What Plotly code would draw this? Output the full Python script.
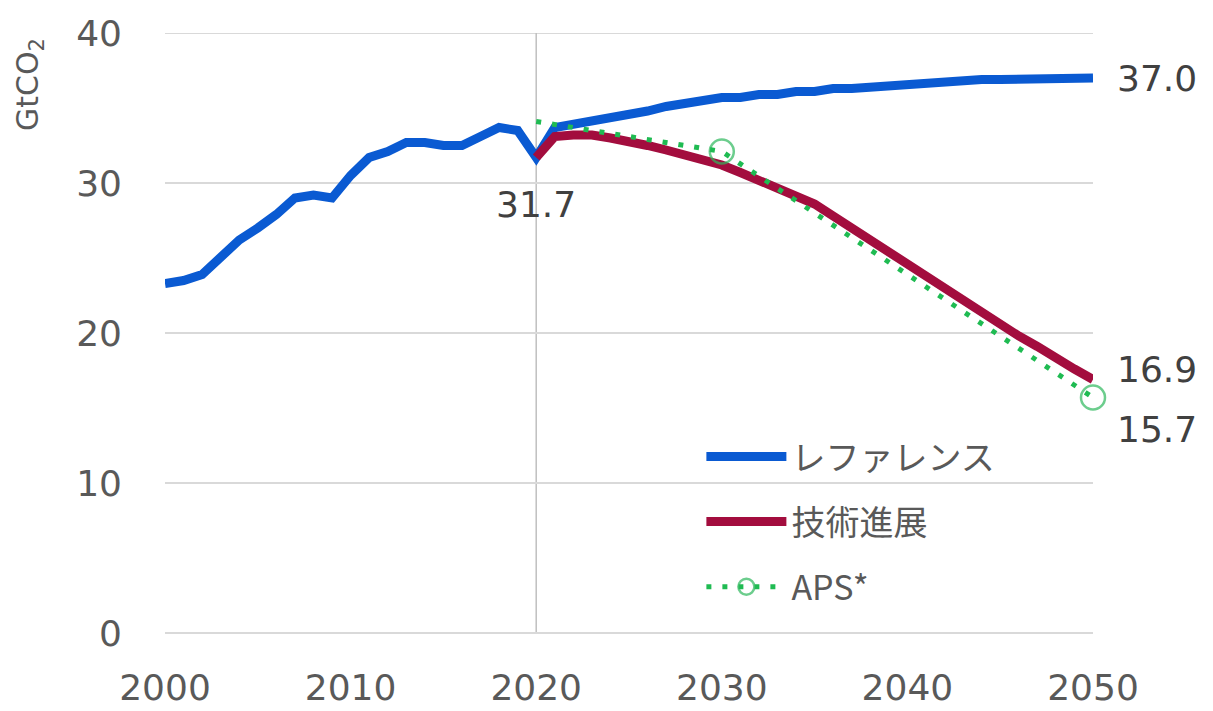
import plotly.graph_objects as go

# ---- data ----
years_hist = list(range(2000, 2021))
hist_vals = [23.3, 23.5, 23.9, 25.1, 26.2, 27.0, 27.9, 29.0, 29.2, 29.0,
             30.5, 31.7, 32.1, 32.7, 32.7, 32.5, 32.5, 33.1, 33.7, 33.5, 31.7]

years_proj = list(range(2021, 2051))
ref_vals = [33.7, 33.9, 34.2, 34.4, 34.6, 34.8, 35.1, 35.3, 35.5, 35.7,
            35.7, 35.9, 35.9, 36.1, 36.1, 36.3, 36.3, 36.4, 36.5, 36.6,
            36.7, 36.7, 36.8, 36.9, 36.9, 36.9, 36.9, 37.0, 37.0, 37.0]

years_tech = list(range(2020, 2051))
tech_vals = [31.7, 33.1, 33.2, 33.2, 33.0, 32.8, 32.5, 32.2, 31.9, 31.6,
             31.2, 30.7, 30.2, 29.7, 29.2, 28.6, 27.8, 27.0, 26.2, 25.3,
             24.5, 23.7, 22.9, 22.1, 21.3, 20.5, 19.8, 19.1, 18.3, 17.6, 16.9]

years_aps = [2020, 2030, 2050]
aps_vals = [34.1, 32.1, 15.7]
aps_marker_sizes = [0, 24, 24]

series_names = ["レファレンス", "技術進展", "APS*"]
x_ticks = [2000, 2010, 2020, 2030, 2040, 2050]
y_ticks = [0, 10, 20, 30, 40]

BLUE = "#0A5AD2"
RED = "#A30D3E"
GREEN = "#1FBB52"
TXT = "#595959"
GRID = "#D9D9D9"
FONT = "DejaVu Sans, Verdana, sans-serif"
JP = "Noto Sans CJK JP, DejaVu Sans, sans-serif"

fig = go.Figure()

fig.add_trace(go.Scatter(
    x=years_hist + years_proj, y=hist_vals + ref_vals, mode="lines",
    name=series_names[0], legendgroup="a",
    line=dict(color=BLUE, width=9), cliponaxis=False))

fig.add_trace(go.Scatter(
    x=years_tech, y=tech_vals, mode="lines",
    name=series_names[1], legendgroup="b",
    line=dict(color=RED, width=9), cliponaxis=False))

fig.add_trace(go.Scatter(
    x=years_aps, y=aps_vals, mode="lines+markers",
    name=series_names[2], legendgroup="c",
    line=dict(color=GREEN, width=5, dash="5px,11px"),
    marker=dict(symbol="circle-open", size=aps_marker_sizes, color="#2DB85C",
                line=dict(width=2.5, color="#2DB85C")),
    cliponaxis=False))

# vertical line at 2020
fig.add_shape(type="line", xref="x", yref="y", x0=2020, x1=2020, y0=0, y1=40,
              line=dict(color="#BFBFBF", width=1.5), layer="below")
# top gridline at 40 (plotly omits the grid line lying on the range edge)
fig.add_shape(type="line", xref="paper", yref="y", x0=0, x1=1, y0=y_ticks[-1], y1=y_ticks[-1],
              line=dict(color=GRID, width=2), layer="below")

ann_font = dict(family=FONT, size=36, color="#404040")
fig.add_annotation(x=2020, y=hist_vals[-1], text="31.7", showarrow=False,
                   xanchor="center", yanchor="middle", yshift=-47, font=ann_font)
fig.add_annotation(x=2050, y=ref_vals[-1], text="37.0", showarrow=False,
                   xanchor="left", yanchor="middle", xshift=22, font=ann_font)
fig.add_annotation(x=2050, y=tech_vals[-1], text="16.9", showarrow=False,
                   xanchor="left", yanchor="middle", xshift=22, yshift=10, font=ann_font)
fig.add_annotation(x=2050, y=aps_vals[-1], text="15.7", showarrow=False,
                   xanchor="left", yanchor="middle", xshift=22, yshift=-32, font=ann_font)

# y-axis title
fig.add_annotation(xref="paper", yref="paper", x=-0.1455, y=0.915,
                   text="GtCO<sub>2</sub>", showarrow=False, textangle=-90,
                   xanchor="center", yanchor="middle",
                   font=dict(family=FONT, size=30, color=TXT))

fig.update_layout(
    width=1205, height=703,
    margin=dict(l=157, r=120, t=25, b=78, autoexpand=False),
    paper_bgcolor="white", plot_bgcolor="white",
    showlegend=True,
    legend=dict(x=0.578, y=0.342, xanchor="left", yanchor="top",
                font=dict(family=JP, size=34, color=TXT),
                bgcolor="rgba(0,0,0,0)", itemwidth=80, tracegroupgap=18,
                traceorder="grouped"),
    xaxis=dict(range=[2000, 2050], tickvals=x_ticks, ticktext=[str(v) for v in x_ticks],
               showgrid=False, zeroline=False, showline=False, ticks="", automargin=False,
               tickfont=dict(family=FONT, size=36, color=TXT), ticklabelstandoff=30),
    yaxis=dict(range=[0, 40], tickvals=y_ticks, showgrid=True, gridcolor=GRID,
               gridwidth=2, zeroline=True, zerolinecolor=GRID, zerolinewidth=2,
               showline=False, ticks="", automargin=False,
               tickfont=dict(family=FONT, size=36, color=TXT), ticklabelstandoff=42),
)

fig.write_html("out.html")
